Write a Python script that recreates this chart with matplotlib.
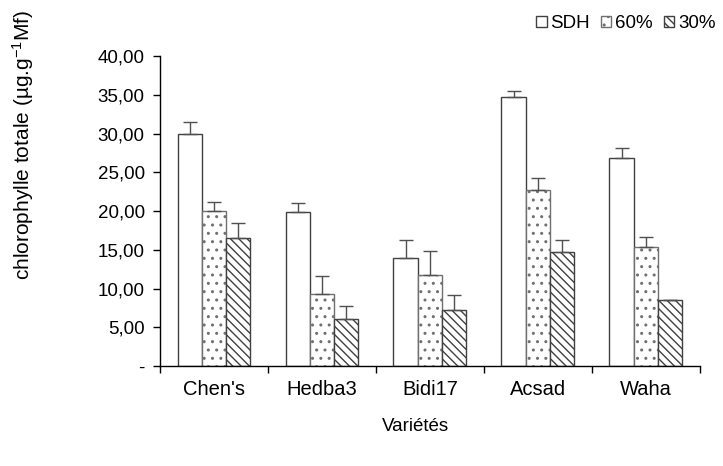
import matplotlib
matplotlib.use('Agg')
import matplotlib.pyplot as plt
import numpy as np
from matplotlib.ticker import FuncFormatter, FixedLocator

plt.rcParams['font.family'] = ['Liberation Sans', 'DejaVu Sans']
plt.rcParams['mathtext.fontset'] = 'custom'
plt.rcParams['mathtext.rm'] = 'Liberation Sans'
plt.rcParams['mathtext.it'] = 'Liberation Sans'
plt.rcParams['hatch.linewidth'] = 1.0

varietes = ["Chen's", 'Hedba3', 'Bidi17', 'Acsad', 'Waha']
traitements = ['SDH', '60%', '30%']

sdh = [29.9, 19.9, 14.0, 34.75, 26.8]
sdh_err = [1.6, 1.1, 2.2, 0.7, 1.3]
p60 = [20.0, 9.35, 11.8, 22.7, 15.4]
p60_err = [1.15, 2.2, 3.1, 1.6, 1.3]
p30 = [16.5, 6.0, 7.2, 14.7, 8.5]
p30_err = [1.9, 1.8, 1.9, 1.5, 0.0]


def fmt_y(v, pos):
    if v == 0:
        return '-'
    return f'{v:.2f}'.replace('.', ',')


fig = plt.figure(figsize=(7.23, 4.66), dpi=100)
ax = fig.add_axes([0.2213, 0.2146, 0.7467, 0.6652])

x = np.arange(len(varietes))
w = 0.225
styles = [
    dict(facecolor='white', edgecolor='#404040', hatch=None),
    dict(facecolor='white', edgecolor='#707070', hatch='..'),
    dict(facecolor='white', edgecolor='#404040', hatch='\\\\\\\\'),
]
series = [(sdh, sdh_err), (p60, p60_err), (p30, p30_err)]

for i, ((vals, errs), st, lab) in enumerate(zip(series, styles, traitements)):
    pos = x + (i - 1) * w
    ax.bar(pos, vals, width=w, label=lab, linewidth=1.0, zorder=2, **st)
    ax.errorbar(pos, vals, yerr=[np.zeros(len(errs)), errs], fmt='none',
                ecolor='#505050', elinewidth=1.0, capsize=5, capthick=1.0, zorder=3)

ax.set_xlim(-0.5, len(varietes) - 0.5)
ax.set_ylim(0, 40)
ax.set_yticks(np.arange(0, 41, 5))
ax.yaxis.set_major_formatter(FuncFormatter(fmt_y))

# ticks between groups, labels centred under each group
ax.xaxis.set_major_locator(FixedLocator(np.arange(-0.5, len(varietes), 1.0)))
ax.xaxis.set_major_formatter(FuncFormatter(lambda v, p: ''))
ax.set_xticks(x, minor=True)
ax.set_xticklabels(varietes, minor=True)
ax.tick_params(axis='x', which='minor', length=0, pad=10, labelsize=14.5)
ax.tick_params(axis='x', which='major', length=5, width=1, direction='out')
ax.tick_params(axis='y', length=5, width=1, direction='out', pad=6, labelsize=13.5)

for s in ['top', 'right']:
    ax.spines[s].set_visible(False)
for s in ['left', 'bottom']:
    ax.spines[s].set_linewidth(1.0)
    ax.spines[s].set_color('black')

fig.text(0.032, 0.689, r'chlorophylle totale (µg.g$^{-1}$Mf)', rotation=90,
         ha='center', va='center', fontsize=15)
fig.text(0.574, 0.084, 'Variétés', ha='center', va='center', fontsize=13.5)

fig.legend(loc='upper right', bbox_to_anchor=(1.008, 0.995), ncol=3, frameon=False,
           fontsize=13.5, handlelength=0.55, handleheight=0.55, handletextpad=0.2,
           columnspacing=0.6, borderaxespad=0.3)

fig.savefig('out.png', dpi=100)
